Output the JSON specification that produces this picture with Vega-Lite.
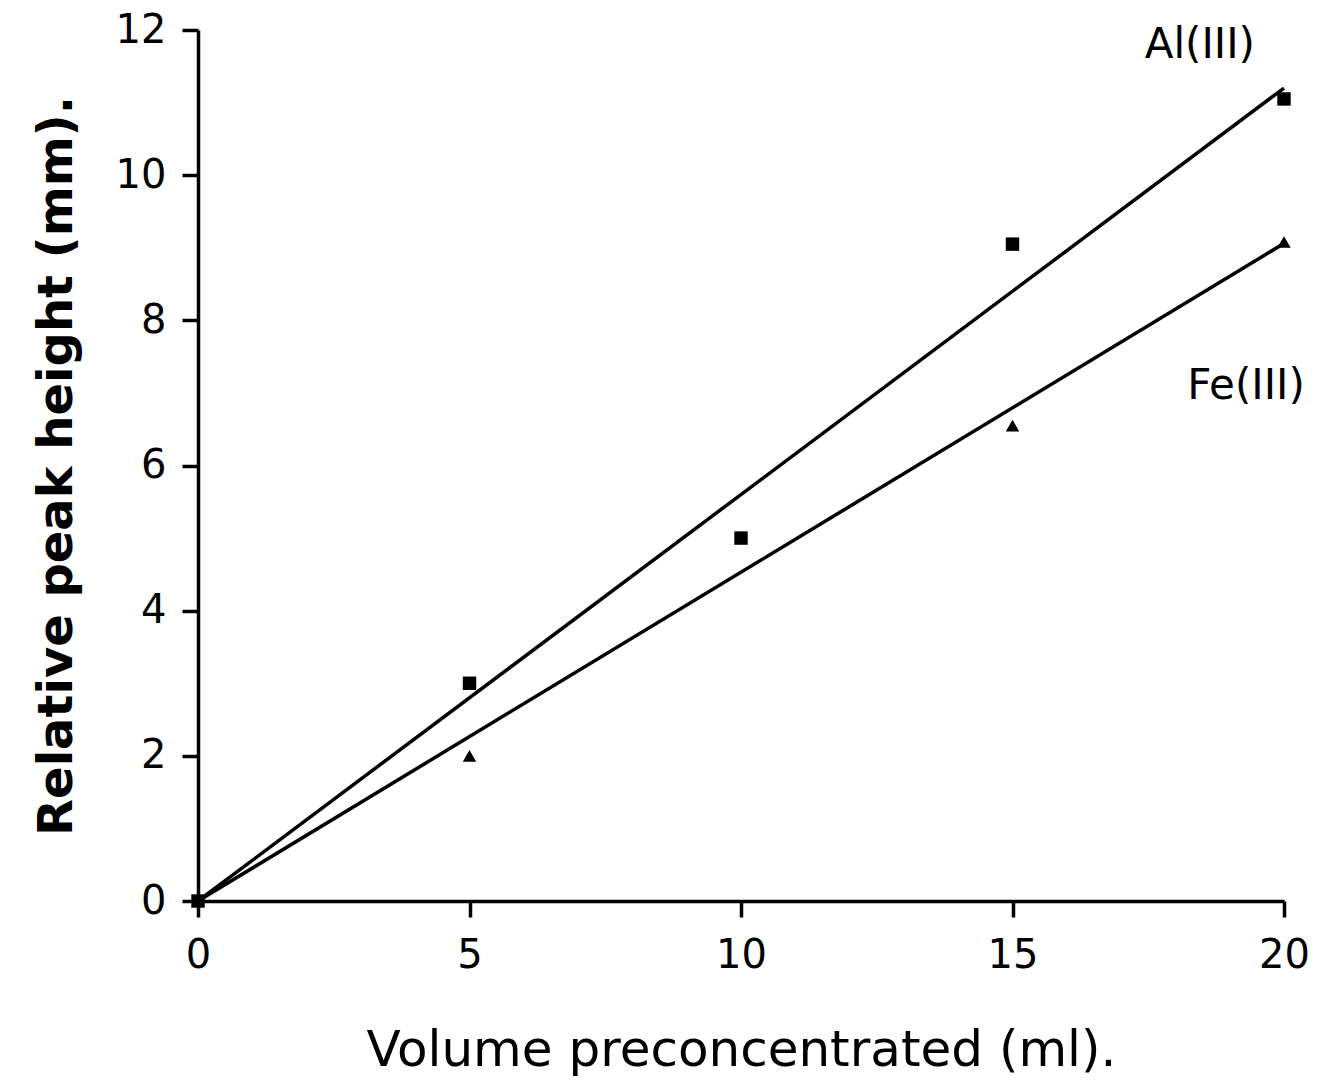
{
  "$schema": "https://vega.github.io/schema/vega-lite/v6.json",
  "autosize": "none",
  "width": 1086,
  "height": 871,
  "padding": {"left": 198, "top": 30, "right": 34, "bottom": 182},
  "background": "white",
  "config": {
    "view": {"stroke": null},
    "font": "DejaVu Sans",
    "axis": {
      "domainColor": "black", "domainWidth": 3.5,
      "tickColor": "black", "tickWidth": 3.5, "tickSize": 16,
      "labelColor": "black", "labelFont": "DejaVu Sans", "labelFontSize": 40, "labelFontWeight": "normal", "labelFlush": false,
      "titleColor": "black", "titleFont": "DejaVu Sans", "titleFontSize": 46, "titleFontWeight": "bold",
      "grid": false
    }
  },
  "datasets": {
    "points": [
      {"volume": 0, "height": 0, "ion": "Al(III)"},
      {"volume": 5, "height": 3.0, "ion": "Al(III)"},
      {"volume": 10, "height": 5.0, "ion": "Al(III)"},
      {"volume": 15, "height": 9.05, "ion": "Al(III)"},
      {"volume": 20, "height": 11.05, "ion": "Al(III)"},
      {"volume": 0, "height": 0, "ion": "Fe(III)"},
      {"volume": 5, "height": 2.0, "ion": "Fe(III)"},
      {"volume": 15, "height": 6.55, "ion": "Fe(III)"},
      {"volume": 20, "height": 9.08, "ion": "Fe(III)"}
    ],
    "fits": [
      {"volume": 0, "height": 0, "ion": "Al(III)"},
      {"volume": 20, "height": 11.2, "ion": "Al(III)"},
      {"volume": 0, "height": 0, "ion": "Fe(III)"},
      {"volume": 20, "height": 9.06, "ion": "Fe(III)"}
    ],
    "labels": [
      {"volume": 18.45, "height": 11.8, "ion": "Al(III)"},
      {"volume": 19.3, "height": 7.1, "ion": "Fe(III)"}
    ]
  },
  "layer": [
    {
      "data": {"name": "fits"},
      "mark": {"type": "line", "color": "black", "strokeWidth": 3.5, "clip": false},
      "encoding": {
        "x": {"field": "volume", "type": "quantitative", "scale": {"domain": [0, 20], "nice": false},
          "axis": {"values": [0, 5, 10, 15, 20], "format": "d", "title": "Volume preconcentrated (ml).", "titleFontSize": 50, "titleFontWeight": "normal", "labelPadding": 18, "titlePadding": 50}},
        "y": {"field": "height", "type": "quantitative", "scale": {"domain": [0, 12], "nice": false},
          "axis": {"values": [0, 2, 4, 6, 8, 10, 12], "format": "d", "title": "Relative peak height (mm).", "titleFontSize": 48, "labelPadding": 16, "titlePadding": 34}},
        "detail": {"field": "ion"}
      }
    },
    {
      "data": {"name": "points"},
      "mark": {"type": "point", "filled": true, "color": "black", "opacity": 1, "size": 180, "clip": false},
      "encoding": {
        "x": {"field": "volume", "type": "quantitative"},
        "y": {"field": "height", "type": "quantitative"},
        "shape": {"field": "ion", "type": "nominal", "scale": {"domain": ["Al(III)", "Fe(III)"], "range": ["square", "triangle-up"]}, "legend": null}
      }
    },
    {
      "data": {"name": "labels"},
      "mark": {"type": "text", "fontSize": 42, "color": "black", "align": "center", "baseline": "middle", "font": "DejaVu Sans"},
      "encoding": {
        "x": {"field": "volume", "type": "quantitative"},
        "y": {"field": "height", "type": "quantitative"},
        "text": {"field": "ion"}
      }
    }
  ]
}
